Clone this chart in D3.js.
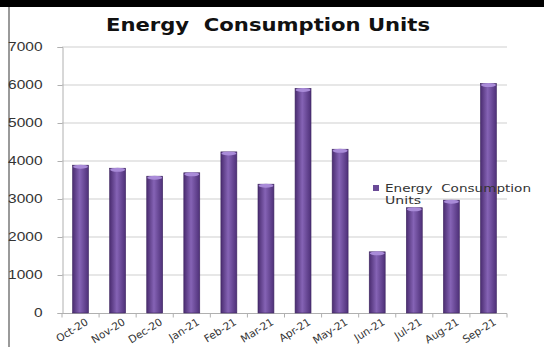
<!DOCTYPE html>
<html>
<head>
<meta charset="utf-8">
<script src="https://cdn.jsdelivr.net/npm/d3@7"></script>
<style>
  body { margin: 0; background: #fff; }
  svg { display: block; font-family: "DejaVu Sans", sans-serif; }
</style>
</head>
<body>
<script>
const months = ['Oct-20','Nov-20','Dec-20','Jan-21','Feb-21','Mar-21','Apr-21','May-21','Jun-21','Jul-21','Aug-21','Sep-21'];
const units = [3890, 3810, 3600, 3690, 4240, 3390, 5910, 4310, 1610, 2770, 2970, 6040];
const yTicks = [0, 1000, 2000, 3000, 4000, 5000, 6000, 7000];
const seriesName = 'Energy  Consumption Units';

const width = 544, height = 347;

const svg = d3.select('body').append('svg')
    .attr('width', width)
    .attr('height', height);

// frame bits: black band on top, grey line on the left
svg.append('rect').attr('x', 0).attr('y', 0).attr('width', width).attr('height', 7).attr('fill', '#000');
svg.append('rect').attr('x', 8).attr('y', 7).attr('width', 2).attr('height', height - 7).attr('fill', '#9a9a9a');

const x = d3.scaleBand()
    .domain(months)
    .range([62, 507])
    .paddingInner(0.57)
    .paddingOuter(0.285);

const y = d3.scaleLinear()
    .domain([0, 7000])
    .range([313, 47]);

// bar gradient (cylinder look)
const defs = svg.append('defs');
const grad = defs.append('linearGradient').attr('id', 'barGrad').attr('x1', 0).attr('x2', 1).attr('y1', 0).attr('y2', 0);
grad.append('stop').attr('offset', '0%').attr('stop-color', '#4a2c70');
grad.append('stop').attr('offset', '45%').attr('stop-color', '#8563b5');
grad.append('stop').attr('offset', '100%').attr('stop-color', '#4e3078');

// gridlines
svg.append('g')
    .selectAll('line')
    .data(yTicks.filter(d => d > 0))
    .join('line')
    .attr('x1', 62).attr('x2', 507)
    .attr('y1', d => y(d)).attr('y2', d => y(d))
    .attr('stroke', '#cfcfcf').attr('stroke-width', 1);

// y axis
const yAxis = svg.append('g')
    .attr('transform', 'translate(62.5,0)')
    .call(d3.axisLeft(y).tickValues(yTicks).tickSize(5).tickPadding(15).tickFormat(d3.format('d')));
yAxis.select('.domain').attr('stroke', '#b0b0b0');
yAxis.selectAll('.tick line').attr('stroke', '#b0b0b0');
yAxis.selectAll('text')
    .attr('font-size', 12).attr('fill', '#333')
    .attr('textLength', d => String(d).length * 8.6)
    .attr('lengthAdjust', 'spacingAndGlyphs');

// x axis with ticks at category boundaries
const xAxisG = svg.append('g').attr('transform', 'translate(0,313.5)');
xAxisG.append('line').attr('x1', 62).attr('x2', 507).attr('stroke', '#b0b0b0');
xAxisG.selectAll('line.tk')
    .data(d3.range(months.length + 1))
    .join('line')
    .attr('class', 'tk')
    .attr('x1', i => 62 + i * x.step()).attr('x2', i => 62 + i * x.step())
    .attr('y1', 0).attr('y2', 4)
    .attr('stroke', '#b0b0b0');
xAxisG.selectAll('text')
    .data(months)
    .join('text')
    .attr('transform', d => `translate(${x(d) + x.bandwidth() / 2 + 5},${5}) rotate(-32)`)
    .attr('text-anchor', 'end')
    .attr('dy', '0.6em')
    .attr('font-size', 10.5)
    .attr('fill', '#333')
    .text(d => d);

// bars
const bars = svg.append('g').selectAll('g')
    .data(months.map((m, i) => ({ m, v: units[i] })))
    .join('g');

bars.append('rect')
    .attr('x', d => x(d.m))
    .attr('y', d => y(d.v))
    .attr('width', x.bandwidth())
    .attr('height', d => y(0) - y(d.v))
    .attr('fill', 'url(#barGrad)')
    .attr('stroke', '#3e2660')
    .attr('stroke-width', 0.6);

bars.append('ellipse')
    .attr('cx', d => x(d.m) + x.bandwidth() / 2)
    .attr('cy', d => y(d.v) + 1.5)
    .attr('rx', x.bandwidth() / 2 - 0.5)
    .attr('ry', 2)
    .attr('fill', '#a98bd8');

// title
svg.append('text')
    .attr('x', 268)
    .attr('y', 31)
    .attr('text-anchor', 'middle')
    .attr('font-size', 17)
    .attr('font-weight', 'bold')
    .attr('fill', '#111')
    .attr('textLength', 324)
    .attr('lengthAdjust', 'spacingAndGlyphs')
    .style('white-space', 'pre')
    .text(seriesName);

// legend
const legend = svg.append('g').attr('transform', 'translate(373,185)');
legend.append('rect').attr('x', 0).attr('y', 0).attr('width', 6).attr('height', 6).attr('fill', '#6a4a97');
legend.append('text').attr('x', 12).attr('y', 7).attr('font-size', 10.5).attr('fill', '#333')
    .attr('textLength', 146).attr('lengthAdjust', 'spacingAndGlyphs')
    .style('white-space', 'pre')
    .text('Energy  Consumption');
legend.append('text').attr('x', 12).attr('y', 19).attr('font-size', 10.5).attr('fill', '#333')
    .attr('textLength', 36).attr('lengthAdjust', 'spacingAndGlyphs')
    .text('Units');
</script>
</body>
</html>
